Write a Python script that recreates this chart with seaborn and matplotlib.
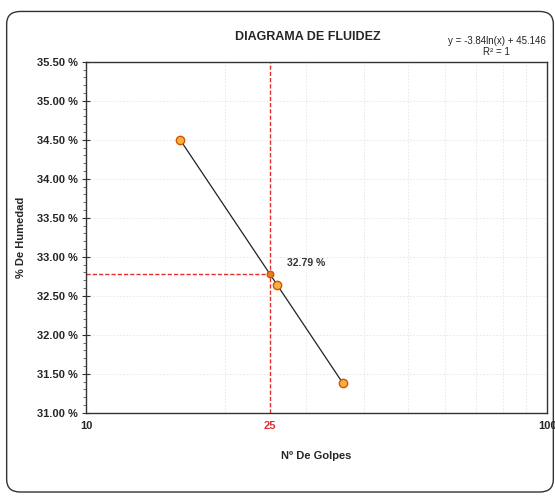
import numpy as np
import pandas as pd
import matplotlib
matplotlib.use("Agg")
import matplotlib.pyplot as plt
from matplotlib.patches import FancyBboxPatch
from matplotlib.ticker import FixedLocator, NullFormatter, MultipleLocator
import seaborn as sns

# Ensayo de límite líquido
golpes = [16, 26, 36]
humedad = [34.499, 32.635, 31.385]
golpes_ref = 25
x_ticks = [10, 25, 100]

sns.set_theme(style="white")
plt.rcParams["font.family"] = ["Liberation Sans Narrow", "Liberation Sans", "DejaVu Sans"]

df = pd.DataFrame({"golpes": golpes, "humedad": humedad})

# Ajuste logarítmico y = a ln(x) + b
a, b = np.polyfit(np.log(df["golpes"]), df["humedad"], 1)
ss_res = np.sum((df["humedad"] - (a * np.log(df["golpes"]) + b)) ** 2)
ss_tot = np.sum((df["humedad"] - df["humedad"].mean()) ** 2)
r2 = 1 - ss_res / ss_tot
h_ref = a * np.log(golpes_ref) + b

fig = plt.figure(figsize=(5.55, 4.98), dpi=100)
ax = fig.add_axes([0.155, 0.171, 0.831, 0.705])

border = FancyBboxPatch((0.012, 0.012), 0.985, 0.965, boxstyle="round,pad=0,rounding_size=0.025",
                        transform=fig.transFigure, fill=False, edgecolor="#333333", linewidth=1.0)
fig.patches.append(border)

ax.set_xscale("log")
ax.set_xlim(10, 100)
ax.set_ylim(31.0, 35.5)

# Rejilla tenue
for xv in range(20, 100, 10):
    ax.axvline(xv, color="#e4e4e4", lw=0.6, ls=(0, (2, 2)), zorder=0)
for yv in np.arange(31.5, 35.5, 0.5):
    ax.axhline(yv, color="#e4e4e4", lw=0.6, ls=(0, (2, 2)), zorder=0)

# Líneas de referencia a 25 golpes
ax.axvline(golpes_ref, color="#e03030", lw=1.0, ls=(0, (3, 1.5)), zorder=2)
ax.plot([10, golpes_ref], [h_ref, h_ref], color="#e03030", lw=1.0, ls=(0, (3, 1.5)), zorder=2)

# Curva de fluidez
xs = np.geomspace(min(golpes), max(golpes), 50)
sns.lineplot(x=xs, y=a * np.log(xs) + b, color="#222222", lw=0.9, ax=ax, zorder=3)
sns.scatterplot(data=df, x="golpes", y="humedad", s=36, color="#f5b041",
                edgecolor="#d35400", linewidth=1.0, ax=ax, zorder=4)
ax.scatter([golpes_ref], [h_ref], s=22, color="#e67e22", edgecolor="#d35400", zorder=5)

ax.text(golpes_ref * 1.09, h_ref + 0.07, f"{h_ref:.2f} %", fontsize=7.5, fontweight="bold",
        color="#333333", ha="left", va="bottom")

# Ejes
ax.xaxis.set_major_locator(FixedLocator(x_ticks))
ax.xaxis.set_minor_formatter(NullFormatter())
ax.set_xticks(x_ticks)
ax.set_xticklabels([str(v) for v in x_ticks], fontsize=8, fontweight="bold")
for lbl in ax.get_xticklabels():
    if lbl.get_text() == str(golpes_ref):
        lbl.set_color("#e03030")
ax.tick_params(axis="x", which="both", length=0, pad=6)

ax.yaxis.set_major_locator(MultipleLocator(0.5))
ax.yaxis.set_minor_locator(MultipleLocator(0.1))
ax.set_yticklabels([f"{v:.2f} %" for v in ax.get_yticks()], fontsize=8, fontweight="bold")
ax.tick_params(axis="y", which="major", left=True, direction="inout", length=6, width=0.8,
               color="#333333", pad=3)
ax.tick_params(axis="y", which="minor", left=True, length=2, width=0.6, color="#555555")

for side in ["left", "bottom", "right", "top"]:
    ax.spines[side].set_color("#333333")
    ax.spines[side].set_linewidth(1.0)

ax.set_xlabel("Nº De Golpes", fontsize=8, fontweight="bold", labelpad=14)
ax.set_ylabel("% De Humedad", fontsize=8, fontweight="bold", labelpad=8)
ax.set_title("DIAGRAMA DE FLUIDEZ", fontsize=9, fontweight="bold", pad=16, x=0.48)

fig.text(0.895, 0.917, f"y = {a:.2f}ln(x) + {b:.3f}", fontsize=7, ha="center", va="center", color="#222222")
fig.text(0.895, 0.895, f"R² = {r2:.0f}", fontsize=7, ha="center", va="center", color="#222222")

fig.savefig("out.png", dpi=100)
